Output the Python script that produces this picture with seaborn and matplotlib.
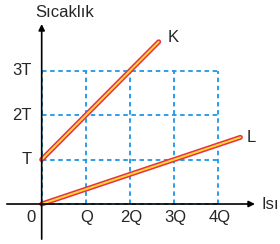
import matplotlib
matplotlib.use("Agg")
import matplotlib.pyplot as plt
import numpy as np
import pandas as pd
import seaborn as sns

sns.set_style("white")
plt.rcParams["font.family"] = ["Liberation Sans", "DejaVu Sans"]

# values (units: Q on x, T on y)
k_heat = [0, 2.65]
k_temp = [1, 3.65]
l_heat = [0, 4.5]
l_temp = [0, 1.5]
x_ticks = [0, 1, 2, 3, 4]
x_labels = ["0", "Q", "2Q", "3Q", "4Q"]
y_ticks = [0, 1, 2, 3]
y_labels = ["", "T", "2T", "3T"]

data = pd.concat([
    pd.DataFrame({"Isı": k_heat, "Sıcaklık": k_temp, "madde": "K"}),
    pd.DataFrame({"Isı": l_heat, "Sıcaklık": l_temp, "madde": "L"}),
])

fig = plt.figure(figsize=(2.8, 2.44), dpi=100)
ax = fig.add_axes([0, 0, 1, 1])

# axes with arrows
ax.annotate("", xy=(4.83, 0), xytext=(-0.79, 0),
            arrowprops=dict(arrowstyle="-|>", color="black", lw=1.2,
                            mutation_scale=9, shrinkA=0, shrinkB=0))
ax.annotate("", xy=(0, 4.05), xytext=(0, -0.79),
            arrowprops=dict(arrowstyle="-|>", color="black", lw=1.2,
                            mutation_scale=9, shrinkA=0, shrinkB=0))

grid_color = "#1e96e6"
for x in x_ticks:
    ax.plot([x, x], [0, 3], color=grid_color, lw=1.3, ls=(0, (2.5, 2)))
for y in y_ticks:
    ax.plot([0, 4], [y, y], color=grid_color, lw=1.3, ls=(0, (2.5, 2)))

sns.lineplot(data=data, x="Isı", y="Sıcaklık", units="madde", estimator=None,
             color="#ea3042", lw=3.6, ax=ax, legend=False)
sns.lineplot(data=data, x="Isı", y="Sıcaklık", units="madde", estimator=None,
             color="#f8dc32", lw=1.4, ax=ax, legend=False)
ax.axis("off")
ax.set_xlim(-0.944, 5.397)
ax.set_ylim(-0.900, 4.591)

fs = 12
for x, lab in zip(x_ticks, x_labels):
    dx = -0.24 if x == 0 else 0.02
    ax.text(x + dx, -0.3, lab, ha="center", va="center", fontsize=fs)
for y, lab in zip(y_ticks, y_labels):
    ax.text(-0.22, y, lab, ha="right", va="center", fontsize=fs)

ax.text(-0.15, 4.31, "Sıcaklık", ha="left", va="center", fontsize=fs)
ax.text(4.98, 0.0, "Isı", ha="left", va="center", fontsize=fs)
ax.text(k_heat[-1] + 0.2, k_temp[-1] + 0.1, "K", ha="left", va="center", fontsize=fs)
ax.text(l_heat[-1] + 0.15, l_temp[-1] + 0.0, "L", ha="left", va="center", fontsize=fs)

fig.savefig("out.png", dpi=100)
